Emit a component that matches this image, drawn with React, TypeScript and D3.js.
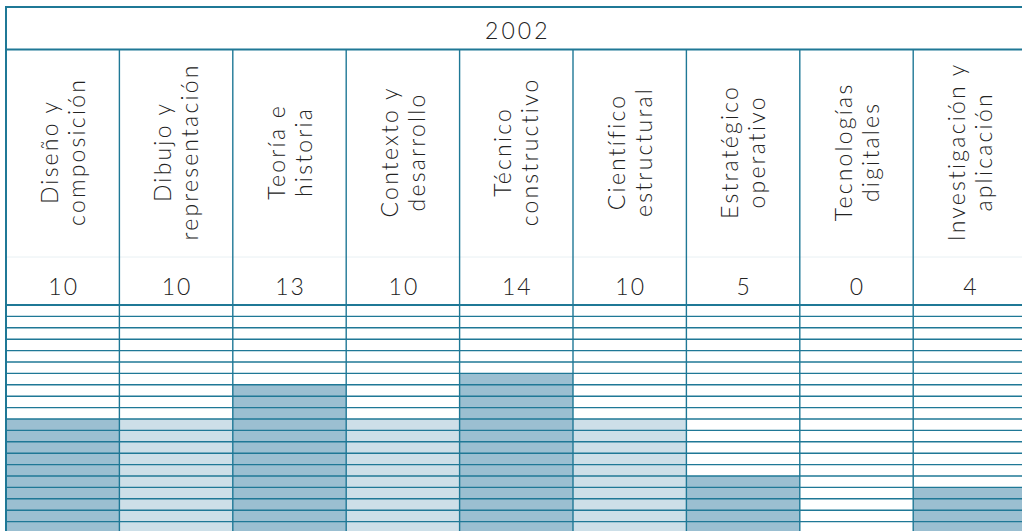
import React from "react";
import * as d3 from "d3";

const year = "2002";
const labels: string[][] = [
  ["Diseño y", "composición"],
  ["Dibujo y", "representación"],
  ["Teoría e", "historia"],
  ["Contexto y", "desarrollo"],
  ["Técnico", "constructivo"],
  ["Científico", "estructural"],
  ["Estratégico", "operativo"],
  ["Tecnologías", "digitales"],
  ["Investigación y", "aplicación"],
];
const values: number[] = [10, 10, 13, 10, 14, 10, 5, 0, 4];
const gridMax = 20;

const W = 1022;
const H = 531;
const LINE = "#1f7896";
const DARK_FILL = "#9bbfd1";
const LIGHT_FILL = "#cddfe8";
const TEXT = "#222222";
const FONT = "Lato, 'Open Sans', 'DejaVu Sans', sans-serif";

export default function App() {
  const left = 6;
  const colW = 113.4;
  const x = d3
    .scaleBand<number>()
    .domain(d3.range(values.length))
    .range([left, left + colW * values.length])
    .padding(0);
  const y = d3.scaleLinear().domain([0, gridMax]).range([533, 305]);
  const gridTicks = d3.range(1, gridMax + 1);
  const top = 7;
  const headerBottom = 49.5;
  const labelCenterY = 153;
  const ls = 2.2;

  return (
    <svg
      width={W}
      height={H}
      style={{ position: "absolute", left: 0, top: 0, background: "#fff" }}
    >
      {/* bars */}
      {values.map((v, i) => (
        <rect
          key={"b" + i}
          x={x(i)!}
          width={x.bandwidth()}
          y={y(v)}
          height={y(0) - y(v)}
          fill={i % 2 === 0 ? DARK_FILL : LIGHT_FILL}
        />
      ))}
      {/* grid lines */}
      {gridTicks.map((t) => (
        <line
          key={"g" + t}
          x1={left}
          x2={W}
          y1={y(t)}
          y2={y(t)}
          stroke={LINE}
          strokeWidth={t === gridMax ? 2 : 1.4}
        />
      ))}
      {/* faint separator between labels and values */}
      <line x1={left} x2={W} y1={257} y2={257} stroke="#e8f0f3" strokeWidth={1} />
      {/* column lines */}
      {values.map((_, i) =>
        i === 0 ? null : (
          <line
            key={"c" + i}
            x1={x(i)!}
            x2={x(i)!}
            y1={headerBottom}
            y2={H}
            stroke={LINE}
            strokeWidth={1.4}
          />
        )
      )}
      {/* outer borders */}
      <line x1={left} x2={W} y1={top} y2={top} stroke={LINE} strokeWidth={2} />
      <line x1={left} x2={left} y1={top - 1} y2={H} stroke={LINE} strokeWidth={2} />
      <line
        x1={left}
        x2={W}
        y1={headerBottom}
        y2={headerBottom}
        stroke={LINE}
        strokeWidth={2}
      />
      {/* header */}
      <text
        x={left + (colW * values.length) / 2 + 1.5}
        y={39}
        textAnchor="middle"
        fontFamily={FONT}
        fontSize={23}
        fontWeight={300}
        letterSpacing={3}
        fill={TEXT}
      >
        {year}
      </text>
      {/* labels */}
      {labels.map((lines, i) => {
        const cx = x(i)! + x.bandwidth() / 2;
        const offs = [-5, 22];
        return (
          <g key={"l" + i}>
            {lines.map((ln, j) => (
              <text
                key={j}
                transform={`translate(${cx + offs[j]},${labelCenterY - ls / 2}) rotate(-90)`}
                textAnchor="middle"
                fontFamily={FONT}
                fontSize={23}
                fontWeight={300}
                letterSpacing={ls}
                fill={TEXT}
              >
                {ln}
              </text>
            ))}
          </g>
        );
      })}
      {/* values */}
      {values.map((v, i) => (
        <text
          key={"v" + i}
          x={x(i)! + x.bandwidth() / 2 + 1}
          y={295}
          textAnchor="middle"
          fontFamily={FONT}
          fontSize={23}
          fontWeight={300}
          letterSpacing={2}
          fill={TEXT}
        >
          {v}
        </text>
      ))}
    </svg>
  );
}
